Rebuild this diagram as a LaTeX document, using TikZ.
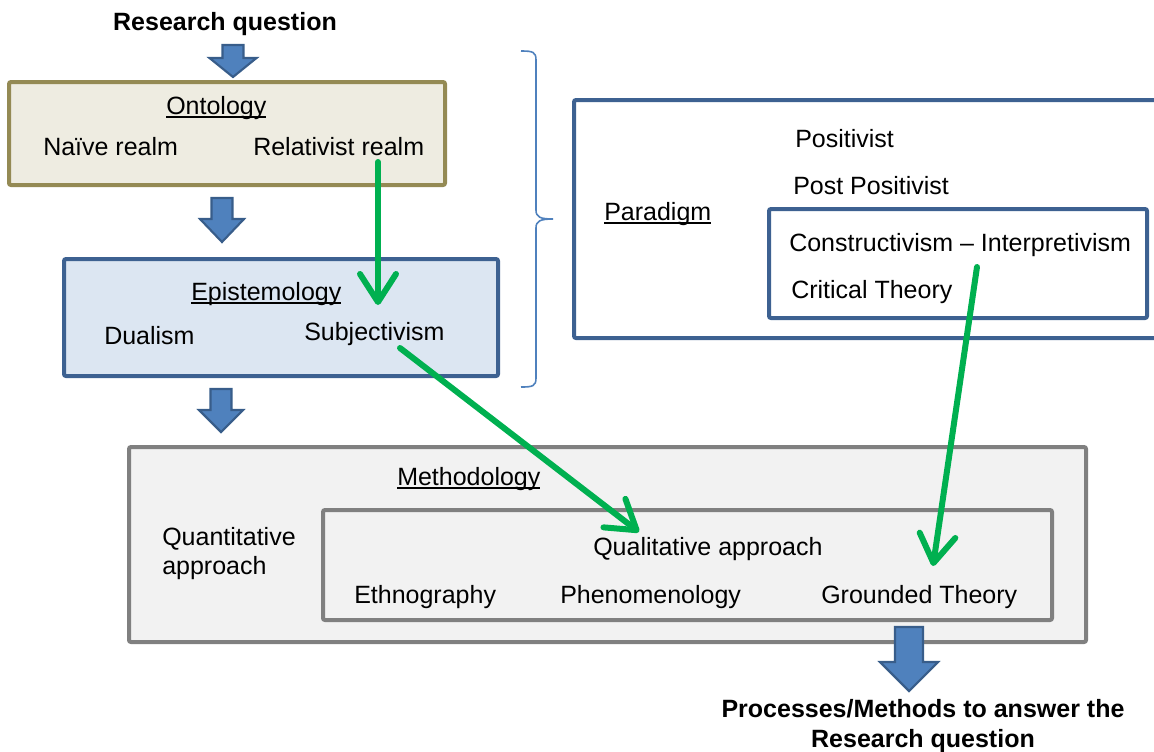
\documentclass[tikz,border=0pt]{standalone}
\usepackage{fontspec}
\setmainfont{Liberation Sans}
\usetikzlibrary{arrows.meta}

\definecolor{ontofill}{HTML}{EEECE1}
\definecolor{ontoedge}{HTML}{948A54}
\definecolor{epifill}{HTML}{DCE6F2}
\definecolor{blueedge}{HTML}{3D6191}
\definecolor{methfill}{HTML}{F2F2F2}
\definecolor{methedge}{HTML}{808080}
\definecolor{blockfill}{HTML}{4F81BD}
\definecolor{blockedge}{HTML}{385D8A}
\definecolor{arrowgreen}{HTML}{00B050}
\definecolor{bracecol}{HTML}{4F81BD}

% underline set close to the baseline
\newcommand{\ulword}[1]{\setbox0\hbox{#1}\rlap{\rule[-3.2pt]{\wd0}{1.4pt}}\box0}

% downward block arrow: centre x, top, neck y, tip y, shaft half width, head half width
\newcommand{\blockdown}[6]{%
  \draw[blockarrow] (#1-#5,#2) -- (#1+#5,#2) -- (#1+#5,#3) -- (#1+#6,#3)
    -- (#1,#4) -- (#1-#6,#3) -- (#1-#5,#3) -- cycle;}

\begin{document}
\begin{tikzpicture}[x=0.75pt,y=-0.75pt,
  txt/.style={inner sep=0pt, anchor=base west, font=\fontsize{18.75pt}{22pt}\selectfont},
  boldtxt/.style={inner sep=0pt, anchor=base, font=\fontsize{18.75pt}{22pt}\selectfont\bfseries},
  box/.style={line width=3pt, rounded corners=1.5pt},
  greenarrow/.style={draw=arrowgreen, line width=4.5pt, line cap=round,
    -{Straight Barb[length=21pt,width=27pt,round]}},
  blockarrow/.style={draw=blockedge, fill=blockfill, line width=1.6pt, line join=miter}]

\useasboundingbox (0,0) rectangle (1154,751);
\clip (0,0) rectangle (1154,751);

% boxes
\draw[box, draw=ontoedge, fill=ontofill] (9,82) rectangle (445,185);
\draw[box, draw=blueedge, fill=epifill] (64,259) rectangle (498,376);
\draw[box, draw=methedge, fill=methfill] (129,447) rectangle (1086,642);
\draw[box, draw=methedge, fill=methfill] (323,510) rectangle (1052,620);
\draw[box, draw=blueedge, fill=white] (574,100) rectangle (1170,338);
\draw[box, draw=blueedge, fill=white] (769,209) rectangle (1147,318);

% brace grouping ontology and epistemology
\draw[bracecol, line width=1.2pt]
  (521,51) .. controls (533,51) and (536,52) .. (536,60) -- (536,210)
  .. controls (536,217) and (540,219) .. (553,219)
  .. controls (540,219) and (536,221) .. (536,228) -- (536,378)
  .. controls (536,386) and (533,387) .. (521,387);

% block arrows
\blockdown{233}{45}{58}{77}{10.5}{23.5}
\blockdown{222}{198}{219}{242}{10.5}{22}
\blockdown{221}{389}{410}{432}{10.5}{22}
\blockdown{909}{627}{662}{691}{14}{29}

% texts
\node[boldtxt] (rq) at (225,30) {Research question};
\node[txt] (onto) at (166,114) {\ulword{Ontology}};
\node[txt] (naive) at (43,155) {Naïve realm};
\node[txt] (relreal) at (253,155) {Relativist realm};
\node[txt] (epi) at (191,300) {\ulword{Epistemology}};
\node[txt] (dual) at (104,344) {Dualism};
\node[txt] (subj) at (304,340) {Subjectivism};
\node[txt] (posi) at (795,147) {Positivist};
\node[txt] (postposi) at (793,194) {Post Positivist};
\node[txt] (para) at (604,220) {\ulword{Paradigm}};
\node[txt] (constr) at (789,251) {Constructivism – Interpretivism};
\node[txt] (crit) at (791,298) {Critical Theory};
\node[txt] (meth) at (397,485) {\ulword{Methodology}};
\node[txt] (quant1) at (162,545) {Quantitative};
\node[txt] (quant2) at (162,574) {approach};
\node[txt] (qual) at (593,555) {Qualitative approach};
\node[txt] (ethno) at (354,603) {Ethnography};
\node[txt] (pheno) at (560,603) {Phenomenology};
\node[txt] (grounded) at (821,603) {Grounded Theory};
\node[boldtxt] (proc1) at (923,717) {Processes/Methods to answer the};
\node[boldtxt] (proc2) at (923,747) {Research question};

% green links
\coordinate (relfrom) at (378,162);
\coordinate (subjto) at (378,305);
\coordinate (subjfrom) at (400,348);
\coordinate (qualto) at (639,532);
\coordinate (constrfrom) at (977,267);
\coordinate (groundto) at (933,566);
\draw[greenarrow] (relfrom) -- (subjto);
\draw[greenarrow] (subjfrom) -- (qualto);
\draw[greenarrow] (constrfrom) -- (groundto);

\end{tikzpicture}
\end{document}
